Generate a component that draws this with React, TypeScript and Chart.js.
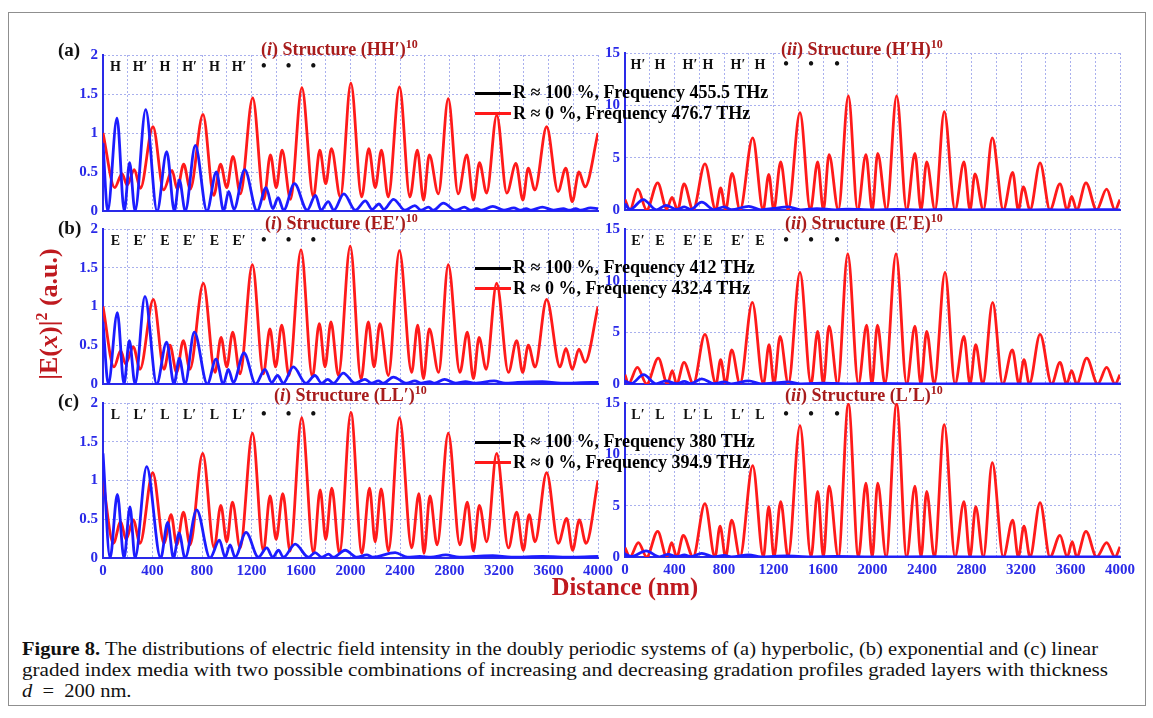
import React, { useEffect, useLayoutEffect, useRef } from 'react';
import { Chart, registerables } from 'chart.js';
Chart.register(...registerables);

type P = [number, number][];

// ---------- axis ticks ----------
const xGrid = [0, 200, 400, 600, 800, 1000, 1200, 1400, 1600, 1800, 2000, 2200, 2400, 2600, 2800, 3000, 3200, 3400, 3600, 3800, 4000];
const xTickLabels = [0, 400, 800, 1200, 1600, 2000, 2400, 2800, 3200, 3600, 4000];
const yTicksLeft = [0, 0.5, 1, 1.5, 2];
const yTicksRight = [0, 5, 10, 15];

// ---------- (a) hyperbolic ----------
const redA1: P = [[0,1.0],[95,0.30],[154,0.48],[195,0.33],[253,0.53],[302,0.29],[404,1.08],[490,0.27],[558,0.52],[600,0.28],[652,0.60],[705,0.28],[808,1.24],[895,0.20],[950,0.60],[1000,0.30],[1050,0.70],[1110,0.22],[1210,1.45],[1300,0.15],[1353,0.72],[1400,0.30],[1447,0.78],[1515,0.15],[1607,1.58],[1700,0.18],[1752,0.78],[1800,0.35],[1846,0.80],[1918,0.18],[2003,1.64],[2090,0.18],[2148,0.80],[2200,0.30],[2250,0.78],[2305,0.18],[2396,1.59],[2480,0.18],[2540,0.78],[2590,0.14],[2637,0.72],[2710,0.22],[2790,1.44],[2870,0.22],[2940,0.72],[2993,0.14],[3042,0.62],[3100,0.23],[3182,1.23],[3263,0.23],[3337,0.61],[3393,0.14],[3436,0.55],[3490,0.27],[3585,1.08],[3677,0.25],[3740,0.55],[3792,0.12],[3846,0.50],[3895,0.31],[4000,1.0]];
const blueA1: P = [[0,0.87],[38,0.0],[113,1.19],[172,0.0],[215,0.62],[259,0.0],[345,1.30],[437,0.0],[515,0.76],[577,0.0],[617,0.40],[665,0.0],[746,0.84],[840,0.0],[916,0.50],[975,0.0],[1016,0.25],[1058,0.02],[1145,0.53],[1245,0.0],[1318,0.30],[1372,0.03],[1415,0.17],[1460,0.01],[1547,0.35],[1650,0.01],[1717,0.20],[1762,0.01],[1820,0.12],[1865,0.01],[1946,0.22],[2040,0.01],[2120,0.13],[2175,0.02],[2230,0.09],[2270,0.02],[2348,0.15],[2440,0.01],[2520,0.07],[2570,0.01],[2630,0.05],[2670,0.01],[2750,0.10],[2850,0.01],[2920,0.05],[2970,0.01],[3020,0.03],[3060,0.01],[3150,0.06],[3240,0.01],[3320,0.04],[3370,0.01],[3420,0.03],[3460,0.01],[3550,0.05],[3640,0.01],[3720,0.03],[3770,0.01],[3820,0.03],[3860,0.01],[3940,0.04],[4000,0.03]];
const redA2: P = [[0,1.0],[40,0],[103,2.0],[175,0],[264,2.6],[337,0.1],[380,1.2],[425,0],[477,2.5],[550,0],[646,4.4],[733,0],[773,2.1],[813,0],[865,3.5],[929,0],[1032,6.9],[1116,0],[1162,3.4],[1202,0],[1258,4.6],[1318,0],[1414,9.3],[1498,0],[1557,4.6],[1603,0],[1649,5.3],[1724,0],[1805,10.9],[1880,0],[1947,5.3],[1998,0],[2042,5.4],[2114,0],[2195,10.9],[2276,0],[2343,5.4],[2392,0],[2438,4.6],[2505,0],[2580,9.4],[2667,0],[2739,4.6],[2788,0],[2828,3.45],[2896,0],[2968,6.9],[3057,0],[3133,3.6],[3178,0],[3219,2.2],[3273,0],[3354,4.5],[3434,0],[3515,2.5],[3574,0],[3609,1.3],[3650,0],[3725,2.6],[3811,0],[3892,2.0],[3960,0],[4000,1.0]];
const blueA2: P = [[0,0.6],[40,0.05],[148,1.0],[253,0.02],[330,0.45],[420,0.05],[480,0.3],[530,0.05],[620,0.75],[720,0.03],[800,0.3],[860,0.03],[1000,0.35],[1100,0.02],[1200,0.15],[1320,0.3],[1420,0.02],[1550,0.12],[1700,0.02],[1800,0.08],[2000,0.02],[2200,0.06],[2400,0.01],[2600,0.05],[2800,0.01],[3000,0.04],[3200,0.01],[3400,0.03],[3600,0.01],[3800,0.03],[4000,0.02]];

// ---------- (b) exponential ----------
const redB1: P = [[0,1.0],[89,0.22],[143,0.43],[182,0.26],[245,0.48],[299,0.19],[407,1.09],[493,0.19],[541,0.50],[595,0.15],[649,0.56],[702,0.19],[811,1.30],[905,0.15],[954,0.60],[1000,0.22],[1048,0.67],[1107,0.13],[1207,1.54],[1296,0.13],[1349,0.71],[1395,0.22],[1444,0.76],[1503,0.11],[1600,1.73],[1692,0.09],[1748,0.78],[1794,0.22],[1842,0.80],[1902,0.11],[1998,1.78],[2085,0.06],[2144,0.80],[2190,0.22],[2238,0.78],[2306,0.11],[2395,1.72],[2494,0.15],[2543,0.76],[2589,0.07],[2637,0.71],[2712,0.15],[2790,1.54],[2884,0.15],[2944,0.67],[2993,0.07],[3039,0.60],[3096,0.19],[3181,1.30],[3276,0.15],[3343,0.56],[3391,0.15],[3437,0.50],[3491,0.22],[3585,1.09],[3693,0.22],[3741,0.46],[3792,0.19],[3846,0.45],[3895,0.28],[4000,1.0]];
const blueB1: P = [[0,0.80],[43,0],[116,0.92],[170,0],[213,0.56],[259,0],[339,1.13],[434,0],[514,0.54],[574,0],[617,0.33],[663,0],[738,0.67],[843,0],[913,0.32],[972,0],[1013,0.19],[1053,0.02],[1139,0.40],[1234,0],[1309,0.19],[1363,0.02],[1411,0.11],[1457,0.01],[1538,0.22],[1640,0.01],[1713,0.11],[1767,0.01],[1816,0.06],[1862,0.01],[1942,0.14],[2037,0.01],[2117,0.06],[2171,0.01],[2225,0.04],[2266,0.01],[2346,0.09],[2454,0.01],[2520,0.04],[2570,0.01],[2640,0.03],[2680,0.01],[2760,0.06],[2850,0.01],[2930,0.03],[3000,0.01],[3160,0.04],[3250,0.01],[3350,0.02],[3550,0.03],[3700,0.01],[3950,0.02],[4000,0.02]];
const redB2: P = [[0,0.9],[27,0],[100,1.6],[175,0],[269,2.5],[343,0],[382,1.3],[417,0],[477,2.1],[552,0],[646,4.8],[735,0],[773,2.35],[813,0],[862,3.3],[929,0],[1029,7.9],[1118,0],[1164,3.8],[1204,0],[1253,4.6],[1320,0],[1414,10.8],[1503,0],[1557,5.1],[1603,0],[1649,5.6],[1719,0],[1800,12.6],[1886,0],[1953,5.7],[1995,0],[2040,5.7],[2101,0],[2190,12.6],[2276,0],[2343,5.6],[2390,0],[2438,5.1],[2499,0],[2586,10.8],[2667,0],[2739,4.6],[2788,0],[2834,3.8],[2891,0],[2971,7.9],[3052,0],[3130,3.3],[3184,0],[3224,2.35],[3267,0],[3354,4.8],[3448,0],[3515,2.1],[3569,0],[3609,1.3],[3650,0],[3731,2.5],[3820,0],[3892,1.6],[3960,0],[4000,0.9]];
const blueB2: P = [[0,0.3],[50,0.05],[150,0.9],[250,0.02],[330,0.3],[420,0.03],[480,0.25],[530,0.03],[620,0.5],[720,0.03],[800,0.2],[860,0.02],[1000,0.3],[1100,0.02],[1200,0.1],[1320,0.2],[1420,0.02],[1600,0.08],[1800,0.02],[2000,0.05],[2400,0.01],[2800,0.03],[3200,0.01],[3600,0.02],[4000,0.01]];

// ---------- (c) linear ----------
const redC1: P = [[0,1.0],[84,0.19],[143,0.47],[186,0.24],[245,0.49],[299,0.19],[402,1.10],[493,0.19],[550,0.56],[596,0.17],[650,0.59],[703,0.17],[806,1.35],[898,0.13],[952,0.68],[1000,0.21],[1046,0.72],[1108,0.13],[1208,1.61],[1296,0.09],[1350,0.80],[1399,0.24],[1453,0.83],[1512,0.09],[1606,1.81],[1701,0.06],[1755,0.88],[1800,0.24],[1849,0.90],[1911,0.06],[2003,1.88],[2092,0.06],[2154,0.90],[2199,0.21],[2248,0.89],[2307,0.09],[2396,1.81],[2494,0.13],[2553,0.83],[2594,0.06],[2642,0.80],[2700,0.17],[2790,1.61],[2884,0.17],[2944,0.72],[2993,0.09],[3041,0.68],[3101,0.21],[3181,1.35],[3276,0.13],[3343,0.59],[3397,0.10],[3443,0.56],[3491,0.21],[3585,1.10],[3679,0.19],[3747,0.51],[3795,0.10],[3849,0.49],[3903,0.19],[4000,1.0]];
const blueC1: P = [[0,1.35],[57,0],[116,0.82],[170,0],[218,0.66],[259,0],[353,1.18],[466,0],[523,0.46],[569,0],[615,0.32],[663,0],[757,0.62],[865,0],[941,0.23],[987,0.01],[1027,0.17],[1067,0.01],[1156,0.33],[1256,0.01],[1323,0.13],[1372,0.01],[1418,0.10],[1458,0.01],[1553,0.18],[1660,0.01],[1714,0.07],[1768,0.01],[1822,0.05],[1862,0.01],[1957,0.10],[2051,0.01],[2132,0.04],[2180,0.01],[2361,0.07],[2460,0.01],[2560,0.02],[2650,0.01],[2770,0.04],[2880,0.01],[3000,0.02],[3150,0.03],[3300,0.01],[3550,0.02],[3800,0.01],[4000,0.02]];
const redC2: P = [[0,0.9],[40,0],[108,1.4],[175,0],[264,2.5],[337,0],[377,1.4],[418,0],[471,2.1],[550,0],[646,5.2],[727,0],[768,3.0],[813,0],[862,3.6],[929,0],[1032,8.9],[1118,0],[1162,4.9],[1204,0],[1258,5.4],[1318,0],[1414,12.8],[1503,0],[1557,6.4],[1603,0],[1649,6.9],[1724,0],[1805,14.9],[1886,0],[1947,7.2],[1998,0],[2042,7.2],[2110,0],[2195,14.9],[2276,0],[2343,6.9],[2392,0],[2438,6.4],[2500,0],[2580,12.9],[2667,0],[2739,5.4],[2788,0],[2834,4.9],[2896,0],[2968,9.2],[3057,0],[3133,3.6],[3178,0],[3224,3.0],[3273,0],[3354,5.3],[3434,0],[3515,2.1],[3574,0],[3614,1.5],[3650,0],[3725,2.5],[3811,0],[3892,1.4],[3960,0],[4000,1.0]];
const blueC2: P = [[0,0.3],[50,0.05],[170,0.6],[280,0.02],[350,0.25],[420,0.03],[480,0.2],[530,0.03],[620,0.35],[720,0.02],[800,0.15],[860,0.02],[1000,0.2],[1100,0.02],[1300,0.1],[1500,0.02],[1700,0.05],[2000,0.01],[2500,0.03],[3000,0.01],[3500,0.02],[4000,0.01]];

// ---------- layer labels ----------
const layersA1 = ['H', 'H′', 'H', 'H′', 'H', 'H′', '•', '•', '•'];
const layersA2 = ['H′', 'H', 'H′', 'H', 'H′', 'H', '•', '•', '•'];
const layersB1 = ['E', 'E′', 'E', 'E′', 'E', 'E′', '•', '•', '•'];
const layersB2 = ['E′', 'E', 'E′', 'E', 'E′', 'E', '•', '•', '•'];
const layersC1 = ['L', 'L′', 'L', 'L′', 'L', 'L′', '•', '•', '•'];
const layersC2 = ['L′', 'L', 'L′', 'L', 'L′', 'L', '•', '•', '•'];
const layerPosLeft = [100, 300, 500, 700, 900, 1100, 1300, 1500, 1700];
const layerPosRight = [105, 283, 525, 671, 913, 1091, 1301, 1503, 1713];

// ---------- texts ----------
const legendA = ['R ≈ 100 %, Frequency 455.5 THz', 'R ≈ 0 %, Frequency 476.7 THz'];
const legendB = ['R ≈ 100 %, Frequency 412 THz', 'R ≈ 0 %, Frequency 432.4 THz'];
const legendC = ['R ≈ 100 %, Frequency 380 THz', 'R ≈ 0 %, Frequency 394.9 THz'];
const titlesLeft = ['(HH′)', '(EE′)', '(LL′)'];
const titlesRight = ['(H′H)', '(E′E)', '(L′L)'];
const panelTags = ['(a)', '(b)', '(c)'];

const FONT = '"Liberation Serif", "Times New Roman", serif';
const RED = '#ff1a1a';
const BLUE = '#1c1cff';
const AXIS = '#2a2ae8';
const GRID = '#a9b0ee';
const DARKRED = '#a81c1c';
const LABELRED = '#bf1a1f';

interface Panel {
  red: P; blue: P; right: boolean; showX: boolean;
  layers: string[]; plotTop: number; plotBottom: number;
}

const panels: Panel[] = [
  { red: redA1, blue: blueA1, right: false, showX: false, layers: layersA1, plotTop: 55, plotBottom: 211 },
  { red: redA2, blue: blueA2, right: true, showX: false, layers: layersA2, plotTop: 53, plotBottom: 210 },
  { red: redB1, blue: blueB1, right: false, showX: false, layers: layersB1, plotTop: 229, plotBottom: 384 },
  { red: redB2, blue: blueB2, right: true, showX: false, layers: layersB2, plotTop: 229, plotBottom: 384 },
  { red: redC1, blue: blueC1, right: false, showX: true, layers: layersC1, plotTop: 403, plotBottom: 558 },
  { red: redC2, blue: blueC2, right: true, showX: true, layers: layersC2, plotTop: 403, plotBottom: 557 },
];

function geom(p: Panel) {
  const canvasLeft = p.right ? 582 : 40;
  const plotLeft = p.right ? 625 : 103;
  const plotRight = p.right ? 1120 : 598;
  const canvasRight = p.right ? 1145 : 620;
  const padTop = 12;
  const xh = p.showX ? 30 : 9;
  return {
    left: canvasLeft,
    top: p.plotTop - padTop,
    width: canvasRight - canvasLeft,
    height: p.plotBottom - p.plotTop + padTop + xh,
    yWidth: plotLeft - canvasLeft,
    padRight: canvasRight - plotRight,
    padTop,
    xh,
  };
}

function buildConfig(p: Panel): any {
  const g = geom(p);
  const yTicks = p.right ? yTicksRight : yTicksLeft;
  const tickFont = { family: FONT, size: 15, weight: 'bold' as const };
  const layerPos = p.right ? layerPosRight : layerPosLeft;
  const layerPlugin = {
    id: 'layerLabels',
    afterDatasetsDraw(chart: any) {
      const ctx = chart.ctx;
      const xs = chart.scales.x;
      const y = chart.chartArea.top + 12;
      ctx.save();
      ctx.fillStyle = '#111';
      ctx.textAlign = 'center';
      ctx.textBaseline = 'middle';
      p.layers.forEach((l, i) => {
        ctx.font = l === '•' ? `bold 16px ${FONT}` : `bold 14px ${FONT}`;
        ctx.fillText(l, xs.getPixelForValue(layerPos[i]), y);
      });
      ctx.restore();
    },
  };
  return {
    type: 'line',
    data: {
      datasets: [
        { data: p.blue.map(([x, y]) => ({ x, y })), borderColor: BLUE, borderWidth: 2.8, pointRadius: 0, cubicInterpolationMode: 'monotone', fill: false },
        { data: p.red.map(([x, y]) => ({ x, y })), borderColor: RED, borderWidth: 2.8, pointRadius: 0, cubicInterpolationMode: 'monotone', fill: false },
      ],
    },
    options: {
      animation: false,
      responsive: false,
      devicePixelRatio: 1,
      events: [],
      layout: { padding: { left: 0, top: g.padTop, right: g.padRight, bottom: 0 } },
      plugins: { legend: { display: false }, tooltip: { enabled: false }, title: { display: false } },
      scales: {
        x: {
          type: 'linear',
          min: 0,
          max: 4000,
          afterBuildTicks: (s: any) => { s.ticks = xGrid.map((v) => ({ value: v })); },
          afterFit: (s: any) => { s.height = g.xh; s.paddingLeft = 0; s.paddingRight = 0; },
          ticks: {
            display: p.showX,
            autoSkip: false,
            maxRotation: 0,
            minRotation: 0,
            padding: 4,
            color: AXIS,
            font: tickFont,
            callback: (v: number) => (xTickLabels.includes(v) ? String(v) : ''),
          },
          grid: { color: GRID, lineWidth: 1, drawTicks: false },
          border: { color: AXIS, width: 2, dash: [2, 2] },
        },
        y: {
          type: 'linear',
          min: 0,
          max: yTicks[yTicks.length - 1],
          afterBuildTicks: (s: any) => { s.ticks = yTicks.map((v) => ({ value: v })); },
          afterFit: (s: any) => { s.width = g.yWidth; s.paddingTop = 0; s.paddingBottom = 0; },
          ticks: {
            padding: 5,
            color: AXIS,
            font: tickFont,
            callback: (v: number) => String(v),
          },
          grid: { color: GRID, lineWidth: 1, drawTicks: false },
          border: { color: AXIS, width: 2, dash: [2, 2] },
        },
      },
    },
    plugins: [layerPlugin],
  };
}

const abs = (s: React.CSSProperties): React.CSSProperties => ({ position: 'absolute', ...s });

function Legend({ top, texts }: { top: number; texts: string[] }) {
  const colors = ['#000', RED];
  return (
    <>
      {texts.map((t, i) => {
        const cy = top + i * 20.5;
        return (
          <React.Fragment key={i}>
            <div style={abs({ left: 475, top: cy - 1.5, width: 36, height: 3, background: colors[i] })} />
            <div style={abs({ left: 513, top: cy - 11, lineHeight: '22px', font: `bold 18px ${FONT}`, color: '#000', whiteSpace: 'nowrap' })}>{t}</div>
          </React.Fragment>
        );
      })}
    </>
  );
}

function Title({ left, top, roman, name }: { left: number; top: number; roman: string; name: string }) {
  return (
    <div style={abs({ left, top, lineHeight: '20px', font: `bold 18px ${FONT}`, color: DARKRED, whiteSpace: 'nowrap' })}>
      (<i>{roman}</i>) Structure {name}
      <span style={{ fontSize: 12, position: 'relative', top: -7 }}>10</span>
    </div>
  );
}

export default function App() {
  const canvasRefs = useRef<(HTMLCanvasElement | null)[]>([]);
  const capRefs = useRef<(HTMLSpanElement | null)[]>([]);

  useEffect(() => {
    const charts = panels.map((p, i) => new Chart(canvasRefs.current[i] as HTMLCanvasElement, buildConfig(p)));
    return () => charts.forEach((c) => c.destroy());
  }, []);

  useLayoutEffect(() => {
    const targets = [1076, 1086];
    let s0 = 1;
    capRefs.current.forEach((el, i) => {
      if (!el) return;
      const w = el.getBoundingClientRect().width;
      const s = i < 2 ? targets[i] / w : s0;
      if (i === 0) s0 = s;
      el.style.transform = `scaleX(${s})`;
      el.style.transformOrigin = 'left center';
    });
  }, []);

  const titleTops = [39, 213, 385];
  const titleLeftX = [261, 265, 274];
  const titleRightX = [781, 785, 785];
  const tagCenters = [51, 229, 402];
  const legendTops = [93, 268, 442];
  const legends = [legendA, legendB, legendC];
  const capStyle: React.CSSProperties = { display: 'inline-block', whiteSpace: 'nowrap', font: `18.5px ${FONT}`, color: '#111' };

  return (
    <div style={abs({ left: 0, top: 0, width: 1153, height: 718, background: '#fff', overflow: 'hidden' })}>
      <div style={abs({ left: 8, top: 12, width: 1136, height: 692, border: '1.5px solid #8f8f8f' })} />
      {panels.map((p, i) => {
        const g = geom(p);
        return (
          <canvas
            key={i}
            ref={(el) => { canvasRefs.current[i] = el; }}
            width={g.width}
            height={g.height}
            style={abs({ left: g.left, top: g.top, width: g.width, height: g.height })}
          />
        );
      })}
      {panelTags.map((t, i) => (
        <div key={t} style={abs({ left: 58, top: tagCenters[i] - 12, lineHeight: '24px', font: `bold 19px ${FONT}`, color: '#111' })}>{t}</div>
      ))}
      {titlesLeft.map((n, i) => (
        <Title key={'l' + i} left={titleLeftX[i]} top={titleTops[i]} roman="i" name={n} />
      ))}
      {titlesRight.map((n, i) => (
        <Title key={'r' + i} left={titleRightX[i]} top={titleTops[i]} roman="ii" name={n} />
      ))}
      {legends.map((l, i) => (
        <Legend key={i} top={legendTops[i]} texts={l} />
      ))}
      <div style={abs({ left: 50 - 110, top: 314 - 16, width: 220, height: 32, lineHeight: '32px', textAlign: 'center', transform: 'rotate(-90deg)', font: `bold 26px ${FONT}`, color: LABELRED, whiteSpace: 'nowrap' })}>
        |E(<i>x</i>)|<span style={{ fontSize: 16, position: 'relative', top: -10 }}>2</span> (a.u.)
      </div>
      <div style={abs({ left: 525, top: 588 - 15, width: 200, lineHeight: '30px', textAlign: 'center', font: `bold 24.5px ${FONT}`, color: LABELRED, whiteSpace: 'nowrap' })}>
        Distance (nm)
      </div>
      <div style={abs({ left: 22, top: 639, lineHeight: '19.5px' })}>
        <div><span ref={(el) => { capRefs.current[0] = el; }} style={capStyle}><b>Figure 8.</b> The distributions of electric field intensity in the doubly periodic systems of (a) hyperbolic, (b) exponential and (c) linear</span></div>
        <div><span ref={(el) => { capRefs.current[1] = el; }} style={capStyle}>graded index media with two possible combinations of increasing and decreasing gradation profiles graded layers with thickness</span></div>
        <div><span ref={(el) => { capRefs.current[2] = el; }} style={capStyle}><i>d</i>&nbsp;&nbsp;=&nbsp;&nbsp;200 nm.</span></div>
      </div>
    </div>
  );
}
